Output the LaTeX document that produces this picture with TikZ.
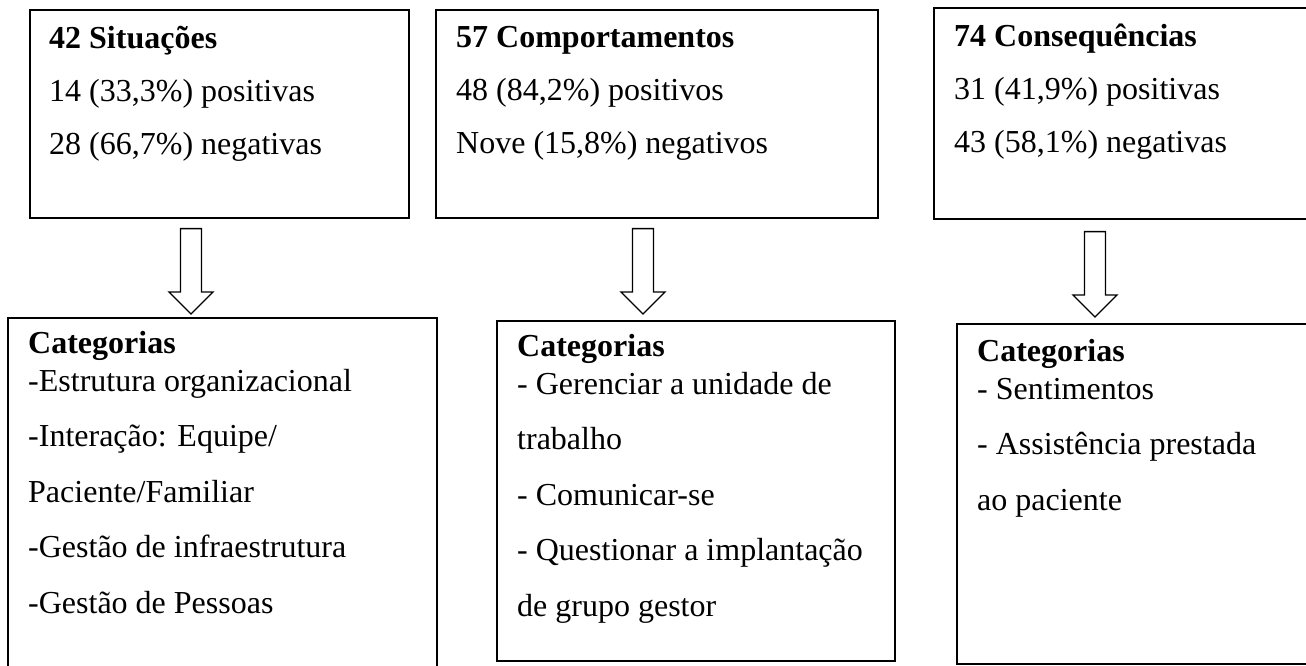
\documentclass[tikz,border=0pt]{standalone}
\usepackage{fontspec}
\setmainfont{Liberation Serif}
\usetikzlibrary{calc,positioning}

\begin{document}
\begin{tikzpicture}[
    x=1pt, y=-1pt,
    box/.style={draw, line width=1.6pt, anchor=north west, inner sep=0},
    boxtext/.style={anchor=north west, align=left, inner sep=0,
        font=\fontsize{32}{53}\selectfont, execute at begin node={\rule{0pt}{24pt}}},
    cattext/.style={boxtext, font=\fontsize{32}{55.5}\selectfont},
    hollow/.style={line width=1.3pt, to path={
        let \p1=(\tikztostart), \p2=(\tikztotarget) in
        (\x1-10.5pt,\y1) -- (\x1-10.5pt,\y2+22pt) -- (\x1-22pt,\y2+22pt) -- (\x1,\y2)
        -- (\x1+22pt,\y2+22pt) -- (\x1+10.5pt,\y2+22pt) -- (\x1+10.5pt,\y1) -- cycle}}]
\useasboundingbox (0,0) rectangle (1306,665);

\node[box, minimum width=379, minimum height=208] (sit) at (29,9) {};
\node[box, minimum width=442, minimum height=208] (com) at (435,9) {};
\node[box, minimum width=379, minimum height=211] (con) at (933,7) {};

\node[box, minimum width=429, minimum height=355] (cat-sit) at (7,317) {};
\node[box, minimum width=398, minimum height=340] (cat-com) at (496,320) {};
\node[box, minimum width=356, minimum height=340] (cat-con) at (956,323) {};

\node[boxtext] (sit-txt) at ($(sit.north west)+(20,17)$)
    {\textbf{42 Situações}\\14 (33,3\%) positivas\\28 (66,7\%) negativas};
\node[boxtext] (com-txt) at ($(com.north west)+(21,17)$)
    {\textbf{57 Comportamentos}\\48 (84,2\%) positivos\\Nove (15,8\%) negativos};
\node[boxtext] (con-txt) at ($(con.north west)+(21,17)$)
    {\textbf{74 Consequências}\\31 (41,9\%) positivas\\43 (58,1\%) negativas};

\node[cattext] (cat-sit-txt) at ($(cat-sit.north west)+(21,14)$)
    {\textbf{Categorias}\\[-17.5pt]-Estrutura organizacional\\-Interação: Equipe/\\Paciente/Familiar\\-Gestão de infraestrutura\\-Gestão de Pessoas};
\node[cattext] (cat-com-txt) at ($(cat-com.north west)+(21,14)$)
    {\textbf{Categorias}\\[-17.5pt]- Gerenciar a unidade de\\trabalho\\- Comunicar-se\\- Questionar a implantação\\de grupo gestor};
\node[cattext] (cat-con-txt) at ($(cat-con.north west)+(21,16)$)
    {\textbf{Categorias}\\[-17.5pt]- Sentimentos\\- Assistência prestada\\ao paciente};

\coordinate (sit-out) at ($(sit.south west)+(162,10)$);
\coordinate (com-out) at ($(com.south west)+(208,10)$);
\coordinate (con-out) at ($(con.south west)+(162,12)$);
\coordinate (cat-sit-in) at ($(cat-sit.north west)+(184,-3)$);
\coordinate (cat-com-in) at ($(cat-com.north west)+(147,-6)$);
\coordinate (cat-con-in) at ($(cat-con.north west)+(139,-6)$);

\draw[hollow] (sit-out) to (cat-sit-in);
\draw[hollow] (com-out) to (cat-com-in);
\draw[hollow] (con-out) to (cat-con-in);

\end{tikzpicture}
\end{document}
